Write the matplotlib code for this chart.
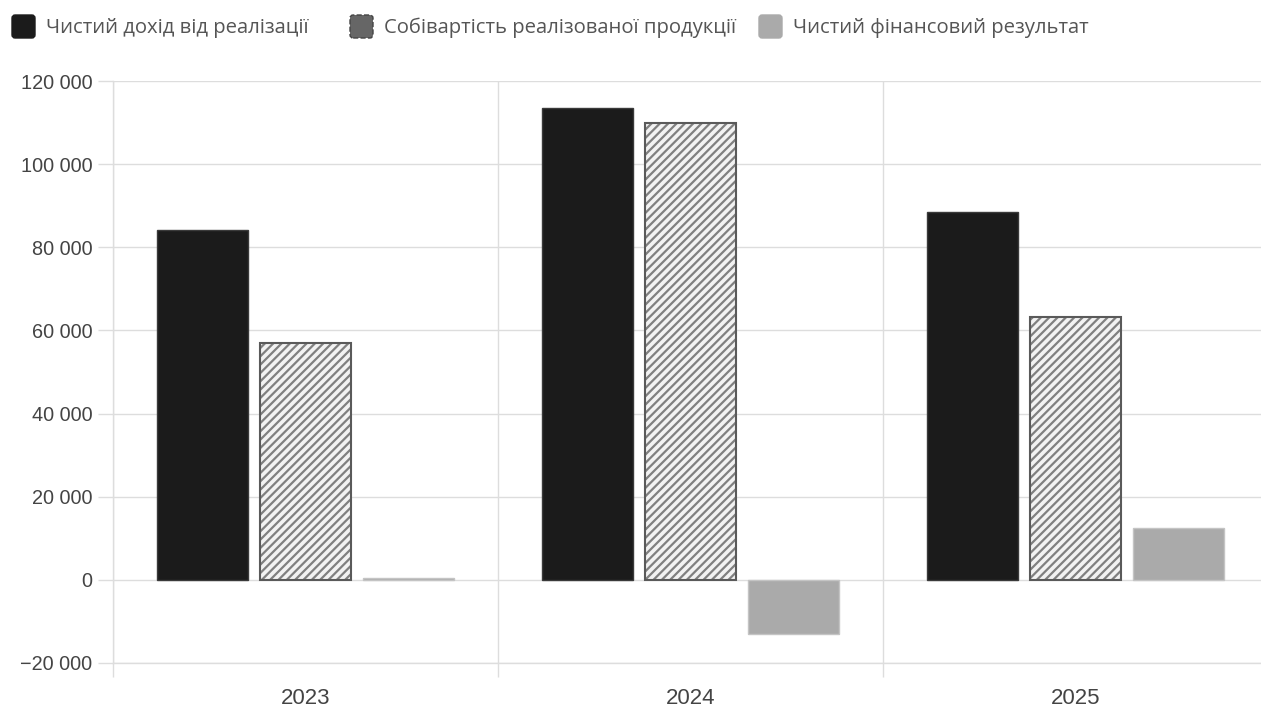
import matplotlib
matplotlib.use("Agg")
import matplotlib.pyplot as plt
import matplotlib.ticker as mticker
from matplotlib.patches import FancyBboxPatch
import numpy as np

years = ["2023", "2024", "2025"]
series_names = ["Чистий дохід від реалізації",
                "Собівартість реалізованої продукції",
                "Чистий фінансовий результат"]
revenue = [84100, 113500, 88500]
cost = [57000, 109900, 63200]
result = [400, -13000, 12500]

plt.rcParams['hatch.linewidth'] = 1.6
W, H = 1261, 707
fig = plt.figure(figsize=(W / 100, H / 100), dpi=100)
ax = fig.add_axes([113 / W, (H - 663) / H, 1155 / W, 582 / H])

x = np.arange(len(years))
bw = 0.236
step = 0.2675
ax.bar(x - step, revenue, bw, color="#1b1b1b", edgecolor="#3a3a3a", linewidth=1, zorder=3)
ax.bar(x, cost, bw, color="#f2f2f2", edgecolor="#808080", hatch="////", linewidth=0, zorder=3)
ax.bar(x, cost, bw, color="none", edgecolor="#5a5a5a", linewidth=1.5, zorder=4)
ax.bar(x + step, result, bw, color="#aaaaaa", edgecolor="#c4c4c4", linewidth=1, zorder=3)

ax.set_xlim(-0.5, 2.5)
ax.set_ylim(-20000, 120000)
ax.yaxis.set_major_locator(mticker.MultipleLocator(20000))
ax.yaxis.set_major_formatter(mticker.FuncFormatter(
    lambda v, p: ("−" if v < 0 else "") + f"{abs(int(v)):,}".replace(",", " ")))
ax.set_xticks(x)
ax.set_xticklabels(years)
ax.set_xticks([-0.5, 0.5, 1.5, 2.5], minor=True)

ax.grid(axis="y", which="major", color="#dddddd", linewidth=1, zorder=0)
ax.grid(axis="x", which="minor", color="#dddddd", linewidth=1, zorder=0)
ax.grid(axis="x", which="major", visible=False)
for s in ["top", "right"]:
    ax.spines[s].set_visible(False)
for s in ["left", "bottom"]:
    ax.spines[s].set_color("#dddddd")
    ax.spines[s].set_linewidth(1)

ax.tick_params(axis="y", which="major", length=11, color="#dddddd", width=1,
               labelsize=14.3, labelcolor="#444444", pad=4)
ax.tick_params(axis="x", which="major", length=0, labelsize=16, labelcolor="#444444", pad=18)
ax.tick_params(axis="x", which="minor", length=10, color="#dddddd", width=1)
for lab in ax.get_xticklabels() + ax.get_yticklabels():
    lab.set_fontfamily(["Liberation Sans", "DejaVu Sans"])

# legend drawn manually for exact placement
leg_face = ["#1b1b1b", "#666666", "#aaaaaa"]
leg_edge = ["#1b1b1b", "#444444", "#aaaaaa"]
leg_ls = ["-", "--", "-"]
sq_left = [12, 350, 759]
sq_size = 23
sq_top = 15
for i, name in enumerate(series_names):
    px = sq_left[i]
    box = FancyBboxPatch((px / W, 1 - (sq_top + sq_size) / H), sq_size / W, sq_size / H,
                         boxstyle="round,pad=0,rounding_size=0.0025",
                         transform=fig.transFigure, facecolor=leg_face[i],
                         edgecolor=leg_edge[i], linestyle=leg_ls[i], linewidth=1,
                         mutation_aspect=W / H)
    fig.patches.append(box)
    fig.text((px + sq_size + 11) / W, 1 - (sq_top + sq_size / 2 + 1) / H, name,
             ha="left", va="center", color="#555555", fontsize=14.6,
             family=["Open Sans", "DejaVu Sans"])

fig.savefig("out.png", dpi=100)
